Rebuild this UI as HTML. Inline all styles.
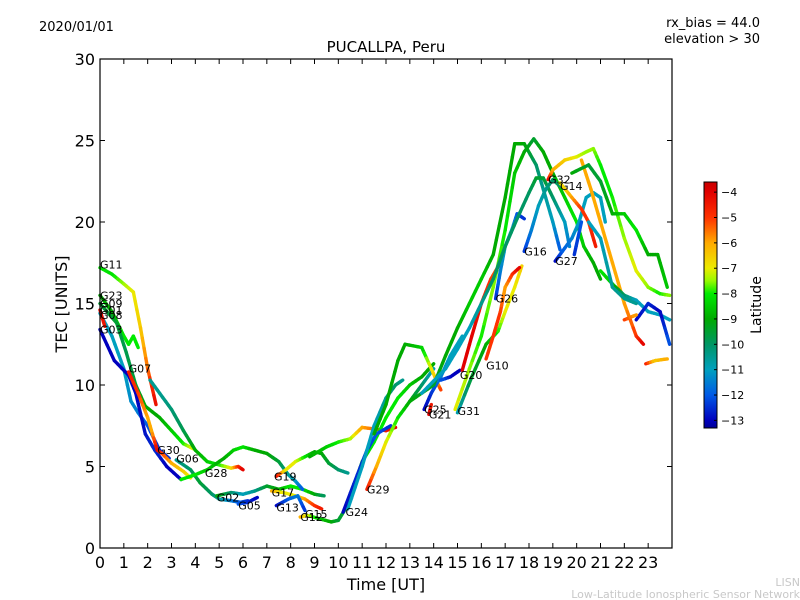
<!DOCTYPE html>
<html><head><meta charset="utf-8"><style>
body{margin:0;background:#fff;}
svg{display:block;font-family:"DejaVu Sans","Liberation Sans",sans-serif;}
</style></head><body>
<svg id="chart" width="800" height="600" viewBox="0 0 800 600" xmlns="http://www.w3.org/2000/svg">
<rect width="800" height="600" fill="#fff"/>
<text x="39" y="31" font-size="13">2020/01/01</text>
<text x="760" y="27" font-size="13" text-anchor="end">rx_bias = 44.0</text>
<text x="760" y="43" font-size="13" text-anchor="end">elevation &gt; 30</text>
<text x="386" y="52" font-size="15" text-anchor="middle">PUCALLPA, Peru</text>
<text transform="translate(67,304) rotate(-90)" font-size="16" text-anchor="middle">TEC [UNITS]</text>
<text x="386" y="590" font-size="16" text-anchor="middle">Time [UT]</text>
<text x="800" y="586" font-size="11" fill="#c8c8c8" text-anchor="end">LISN</text>
<text x="800" y="598" font-size="11" fill="#c8c8c8" text-anchor="end">Low-Latitude Ionospheric Sensor Network</text>
<g id="plot"></g>
<g id="cbar"></g>
</svg>
<script>
const xTicks=[0,1,2,3,4,5,6,7,8,9,10,11,12,13,14,15,16,17,18,19,20,21,22,23];
const yTicks=[0,5,10,15,20,25,30];
const cbTicks=[-4,-5,-6,-7,-8,-9,-10,-11,-12,-13];
const satNames=["G11","G23","G09","G08","G03","G07","G30","G06","G28","G02","G05","G19","G17","G13","G15","G12","G24","G29","G25","G21","G31","G20","G10","G26","G16","G27","G32","G14","G01"];
const satLabelT=[0,0,0,0,0,1.2,2.4,3.2,4.4,4.9,5.8,7.3,7.2,7.4,8.6,8.4,10.3,11.2,13.6,13.8,15.0,15.1,16.2,16.6,17.8,19.1,18.8,19.3,0];
const satLabelV=[17.4,15.5,15.0,14.3,13.4,11.0,6.0,5.5,4.6,3.1,2.6,4.4,3.4,2.5,2.1,1.9,2.2,3.6,8.5,8.2,8.4,10.6,11.2,15.3,18.2,17.6,22.6,22.2,14.6];
const tracks=[
[[0,17.2,-8],[0.5,16.8,-8.2],[1,16.2,-7.5],[1.4,15.7,-7],[1.7,13.5,-6.5],[2,11,-5.5],[2.35,8.8,-4.2]],
[[0,15.5,-9],[0.5,14.5,-9],[1,13,-8],[1.2,12.5,-8],[1.4,13,-8],[1.6,12.3,-8]],
[[0,15,-9.5],[0.7,13.8,-9.5],[1.1,12,-9.8],[1.5,10,-9.5],[1.9,8.7,-9],[2.5,8,-9],[3,7.2,-8.5],[3.5,6.4,-8],[3.9,6.1,-7]],
[[0,14.4,-11],[0.5,13,-11],[1,11,-11],[1.3,9,-11.3],[1.6,8.3,-11.5],[2,7.5,-12],[2.5,6,-12.5],[2.9,5.5,-12.5]],
[[0,13.4,-13],[0.6,11.5,-13],[1.2,10.6,-13],[1.5,9.5,-13],[1.9,7,-12.8],[2.3,6,-12.5],[2.8,5,-13],[3.4,4.2,-13]],
[[1.2,10.8,-4.5],[1.6,9.5,-5],[2,8,-6],[2.2,7,-6],[2.4,6,-4],[2.6,5.8,-5],[3,5.2,-6],[3.5,4.7,-6.5],[3.8,4.3,-7]],
[[2.1,10.3,-10.5],[2.5,9.5,-10.5],[3,8.5,-10.2],[3.5,7.2,-9.8],[4,6,-9],[4.5,5.3,-8.5],[5,5.1,-8],[5.5,4.9,-7],[5.8,5,-5],[6,4.8,-4]],
[[3.2,5.4,-10.5],[3.8,4.8,-10],[4.2,4,-9.5],[4.7,3.3,-10],[5,3,-10.5],[5.5,2.9,-11.5],[5.9,2.8,-12],[6.2,2.9,-12.5]],
[[4.9,3.2,-9],[5.5,3.4,-10],[6,3.3,-11],[6.5,3.5,-10.5],[7,3.8,-9.5],[7.5,3.6,-9],[8,3.8,-8],[8.5,3.6,-8],[9,3.3,-9],[9.4,3.2,-10]],
[[5.8,2.7,-12],[6.2,2.8,-12.5],[6.6,3.1,-13]],
[[3.4,4.2,-8],[4,4.5,-8],[4.5,4.8,-8.5],[5.2,5.5,-9],[5.6,6,-8.5],[6,6.2,-8],[6.5,6,-9],[7,5.8,-9],[7.5,5.3,-9.5],[7.9,4.5,-10.5],[8.2,4.1,-11],[8.5,3.6,-12]],
[[7.4,4.4,-4],[7.8,4.8,-7],[8.2,5.3,-7],[8.6,5.6,-8],[9,5.9,-9],[9.3,5.8,-9],[9.6,5.2,-9.5],[10,4.8,-10],[10.4,4.6,-10.5]],
[[8.8,5.6,-9],[9.5,6.2,-8.5],[10,6.5,-8],[10.5,6.7,-7.5],[11,7.4,-6],[11.5,7.3,-5.5],[12,7.2,-4.5],[12.4,7.4,-4]],
[[7.2,3.5,-6],[7.7,3.4,-7],[8.2,3.2,-7],[8.6,3,-6],[9,2.6,-5],[9.3,2.4,-4.5]],
[[7.4,2.6,-13],[7.9,3,-12],[8.3,3.2,-11.5],[8.6,2.3,-12.5]],
[[8.4,1.9,-6],[8.7,2,-7],[9.2,1.8,-8.5],[9.7,1.6,-9],[10,1.7,-9.5],[10.3,2.4,-9.5],[10.7,4,-9],[11,5.3,-8.5],[11.5,6.5,-8],[12,8,-8],[12.5,9.2,-8],[13,10,-8.5],[13.5,10.5,-9],[14,11.3,-9]],
[[10.2,2.2,-13],[10.8,4.5,-12.5],[11.2,6,-12.5],[11.6,7,-12],[12.2,7.5,-12.5]],
[[10.4,2.4,-11],[11,5,-11],[11.5,7.5,-11],[12,9.2,-10.5],[12.4,10,-10],[12.7,10.3,-10.5]],
[[11.2,3.6,-4.5],[11.6,5,-6],[12,6.5,-7],[12.5,8,-8],[13,9,-9],[13.5,10,-10],[14,11,-11]],
[[11.5,7,-9],[12,8.8,-9],[12.5,11.5,-9],[12.8,12.5,-9],[13.5,12.3,-8.5],[13.9,11,-7],[14.2,10,-6],[14.3,9.7,-5]],
[[13.6,8.5,-13],[13.9,9.5,-12.5],[14.3,10.5,-11.5],[14.7,11.8,-11],[15.2,13,-11]],
[[13.8,8.2,-4],[13.9,8.8,-4.5]],
[[13,9,-9],[14,10,-9.5],[14.5,11.8,-9],[15,13.5,-9],[15.5,15,-8.5],[16,16.5,-8.5],[16.5,18,-9],[17,21.5,-9],[17.4,24.8,-9],[17.8,24.8,-9],[18.3,23.5,-10],[18.6,22,-10.5],[19,20,-11],[19.3,18.3,-12]],
[[14.9,8.5,-7],[15.5,11,-7.5],[16,13,-8],[16.5,16,-7.5],[17,19.5,-8],[17.4,23,-8.5],[17.8,24.3,-9],[18.2,25.1,-9.5],[18.6,24.3,-9],[19,23,-9],[19.5,21.5,-8.5],[20,20,-8],[20.3,18.5,-8.5],[20.7,17.5,-9],[21,16.5,-9]],
[[15,8.3,-11],[15.6,10.5,-9.5],[16.2,12.5,-9],[16.7,13.3,-8],[17,14.5,-7],[17.4,16,-7],[17.7,17.3,-6.5]],
[[16.2,11.6,-5],[16.5,13,-5],[16.8,14.5,-5],[17,16,-6],[17.3,16.8,-5],[17.6,17.2,-4]],
[[15.1,10.9,-13],[14.7,10.5,-13],[14.3,10.3,-12]],
[[15.2,10.9,-4],[15.6,13,-4],[16,15,-4.5],[16.4,16.5,-5],[16.8,17.5,-5.5],[17,18.5,-6]],
[[16.6,15.3,-12.5],[16.8,17,-11.5],[17,18.5,-11],[17.3,19.6,-11],[17.5,20.5,-12],[17.8,20.2,-12.5]],
[[13.5,9.5,-11],[14.5,11,-11],[15,12.2,-11],[15.5,13.5,-11],[16,15,-10.5],[16.5,16.5,-10],[17,18.5,-10],[17.5,20.2,-10],[18,21.8,-10],[18.3,22.7,-9.5],[18.6,22.7,-9.5],[19,21.5,-10],[19.5,20,-11],[19.7,18.5,-11.5]],
[[17.8,18.2,-12.5],[18.1,19.5,-11.5],[18.4,21,-11],[18.7,22,-10.5],[19,22.6,-10],[19.3,22.2,-10]],
[[19.1,17.6,-13],[19.4,18.2,-12],[19.8,19,-11.5],[20.1,20,-11],[20.4,21.5,-11],[20.7,21.8,-11],[21,21.5,-11],[21.2,20,-11]],
[[18.8,22.6,-4],[19,23.2,-6],[19.5,23.8,-6.5],[20,24,-7],[20.4,24.3,-7.5],[20.7,24.5,-7.5],[21,23.5,-8],[21.5,21.5,-8],[22,19,-7.5],[22.5,17,-7],[23,16,-7.5],[23.5,15.6,-8],[23.9,15.5,-7.5]],
[[19.3,22.4,-7],[19.8,21.5,-6],[20.2,20.8,-5],[20.5,20,-5],[20.8,18.5,-4.5]],
[[20.2,23.8,-6],[20.6,22,-6],[21,20,-6],[21.5,17.5,-6],[22,15,-6],[22.5,13,-5],[22.8,12.5,-4]],
[[19.8,23,-9],[20.5,23.5,-9.5],[21,22.5,-9.5],[21.5,20.5,-9],[22,20.5,-8.5],[22.5,19.5,-8],[23,18,-9],[23.4,18,-9],[23.8,16,-8.5]],
[[21,17,-8],[21.5,16.2,-8.5],[22,15.5,-10],[22.5,15.2,-11],[23,14.5,-11],[23.5,14.3,-11],[23.9,14,-11]],
[[22.5,14,-13],[23,15,-12.5],[23.5,14.5,-13],[23.9,12.5,-12]],
[[22,14,-5],[22.5,14.3,-6]],
[[22.9,11.3,-4.5],[23.3,11.5,-6.5],[23.8,11.6,-6]],
[[20.5,20,-11],[21,19,-11],[21.5,16,-10.5],[22,15.3,-10.5],[22.5,15,-10.5]],
[[19.9,18,-12.5],[20.2,20,-12]],
[[0,14.6,-4],[0.2,13.6,-4.5]]
];
const X0=100,X1=672,Y0=548,Y1=59,TMAX=24,VMAX=30;
function xs(t){return X0+(X1-X0)*t/TMAX;}
function ys(v){return Y0-(Y0-Y1)*v/VMAX;}
const LMIN=-13.3,LMAX=-3.6;
const cmapStops=[[-13.3,[0,0,150]],[-13,[0,0,190]],[-12,[0,90,230]],[-11,[0,160,190]],[-10,[0,150,100]],[-9,[0,170,0]],[-8,[0,235,0]],[-7.5,[150,250,0]],[-7,[235,235,0]],[-6,[255,170,0]],[-5,[255,50,0]],[-4,[225,0,0]],[-3.6,[200,0,0]]];
function jet(l){l=Math.max(LMIN,Math.min(LMAX,l));
 for(let i=0;i<cmapStops.length-1;i++){const a=cmapStops[i],b=cmapStops[i+1];
  if(l<=b[0]){const f=(l-a[0])/(b[0]-a[0]);const c=a[1].map((v,k)=>Math.round(v+(b[1][k]-v)*f));return `rgb(${c[0]},${c[1]},${c[2]})`;}}
 return 'rgb(200,0,0)';}
const NS="http://www.w3.org/2000/svg";
function mk(tag,attrs,parent){const e=document.createElementNS(NS,tag);for(const k in attrs)e.setAttribute(k,attrs[k]);parent.appendChild(e);return e;}
const plot=document.getElementById('plot');
tracks.forEach((tr,i)=>{
 const g=mk('g',{},plot);
 
 
 for(let j=0;j<tr.length-1;j++){
  const a=tr[j],b=tr[j+1];
  const n=4;
  for(let k=0;k<n;k++){
   const f0=k/n,f1=(k+1)/n;
   const seg=mk('line',{x1:xs(a[0]+(b[0]-a[0])*f0),y1:ys(a[1]+(b[1]-a[1])*f0),x2:xs(a[0]+(b[0]-a[0])*f1),y2:ys(a[1]+(b[1]-a[1])*f1),stroke:jet(a[2]+(b[2]-a[2])*(f0+f1)/2),'stroke-width':3.4,'stroke-linecap':'round'},g);
   
   
  }
 }
});
satNames.forEach((n,i)=>{
 const t=mk('text',{x:xs(satLabelT[i]),y:ys(satLabelV[i])+4,'font-size':11},plot);
 t.textContent=n;
 
 
});
const frame=mk('rect',{x:X0,y:Y1,width:X1-X0,height:Y0-Y1,fill:'none',stroke:'#000','stroke-width':1.2},plot);


xTicks.forEach(t=>{
 mk('line',{x1:xs(t),x2:xs(t),y1:Y0,y2:Y0-5,stroke:'#000'},plot);
 mk('line',{x1:xs(t),x2:xs(t),y1:Y1,y2:Y1+5,stroke:'#000'},plot);
 const l=mk('text',{x:xs(t),y:Y0+20,'font-size':16,'text-anchor':'middle'},plot);
 l.textContent=t;
 
 
});
yTicks.forEach(v=>{
 mk('line',{x1:X0,x2:X0+5,y1:ys(v),y2:ys(v),stroke:'#000'},plot);
 mk('line',{x1:X1,x2:X1-5,y1:ys(v),y2:ys(v),stroke:'#000'},plot);
 const l=mk('text',{x:X0-5,y:ys(v)+6,'font-size':16,'text-anchor':'end'},plot);
 l.textContent=v;
 
 
});
const cb=document.getElementById('cbar');
const CX=704,CW=13,CT=182,CB=428;
for(let y=CT;y<CB;y++){
 const l=LMAX-(LMAX-LMIN)*(y-CT+0.5)/(CB-CT);
 mk('rect',{x:CX,y:y,width:CW,height:1.2,fill:jet(l)},cb);
}
mk('rect',{x:CX,y:CT,width:CW,height:CB-CT,fill:'none',stroke:'#000','stroke-width':1},cb);
function cy(l){return CT+(LMAX-l)/(LMAX-LMIN)*(CB-CT);}
cbTicks.forEach(l=>{
 mk('line',{x1:CX+CW-3,x2:CX+CW,y1:cy(l),y2:cy(l),stroke:'#000'},cb);
 const t=mk('text',{x:CX+CW+4,y:cy(l)+4,'font-size':11},cb);
 t.textContent='\u2212'+Math.abs(l);
 
 
});
const ct=mk('text',{transform:'translate(761,305) rotate(-90)','font-size':14,'text-anchor':'middle'},cb);
ct.textContent='Latitude';


</script>
</body></html>
